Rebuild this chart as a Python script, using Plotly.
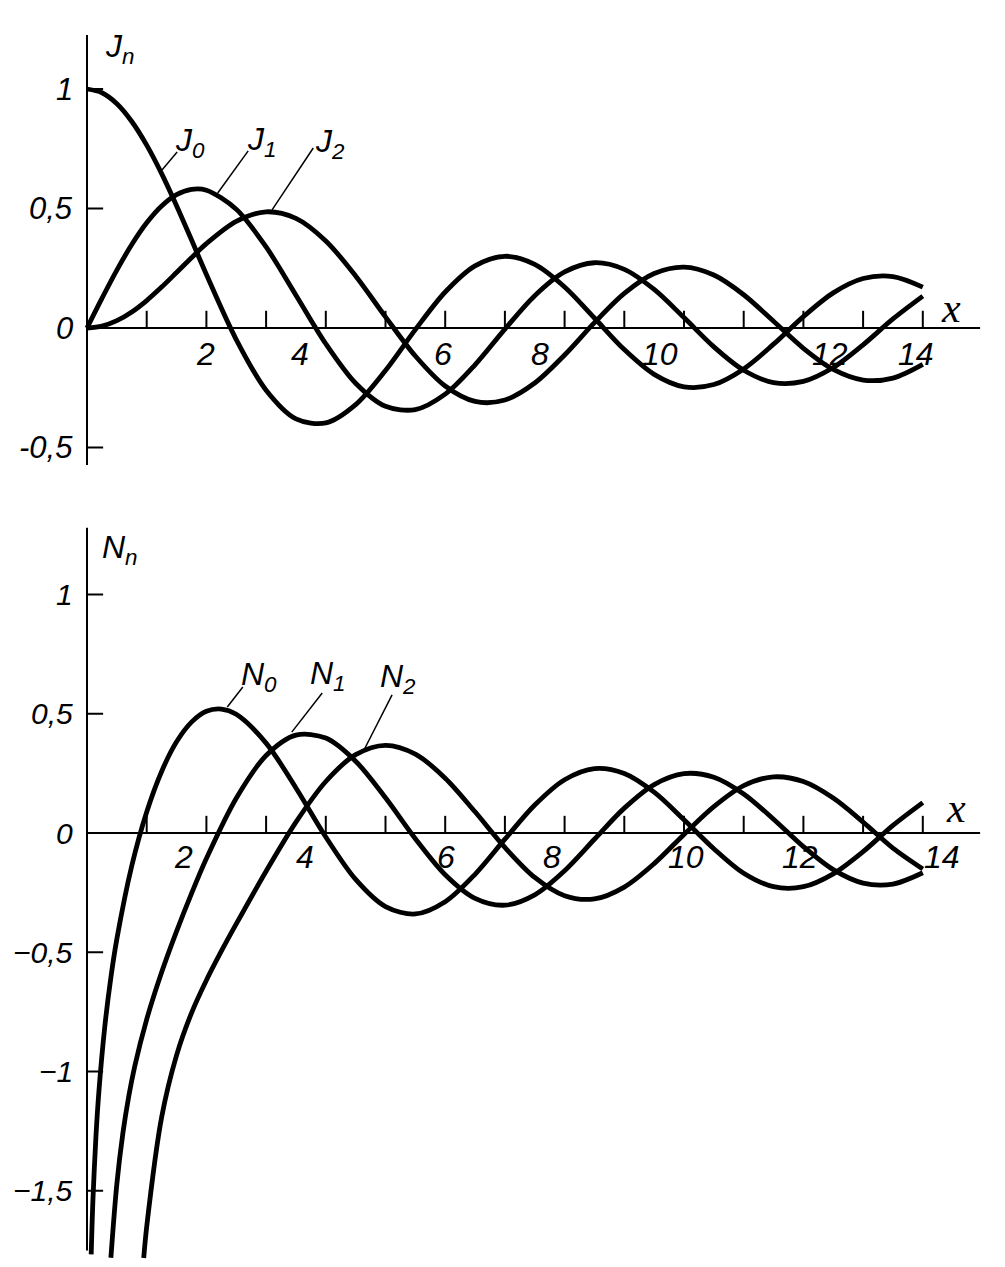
import plotly.graph_objects as go

# ---------------- data ----------------
x_J = [0, 0.25, 0.5, 0.75, 1, 1.25, 1.5, 1.75, 2, 2.5, 3, 3.5, 4, 4.5, 5, 5.5, 6, 6.5,
       7, 7.5, 8, 8.5, 9, 9.5, 10, 10.5, 11, 11.5, 12, 12.5, 13, 13.5, 14]
J0 = [1.0, 0.9844, 0.9385, 0.8642, 0.7652, 0.6459, 0.5118, 0.3690, 0.2239, -0.0484,
      -0.2601, -0.3801, -0.3971, -0.3205, -0.1776, -0.0068, 0.1506, 0.2601, 0.3001, 0.2663,
      0.1717, 0.0419, -0.0903, -0.1939, -0.2459, -0.2366, -0.1712, -0.0677, 0.0477, 0.1469,
      0.2069, 0.2150, 0.1711]
J1 = [0.0, 0.1240, 0.2423, 0.3492, 0.4401, 0.5106, 0.5579, 0.5802, 0.5767, 0.4971,
      0.3391, 0.1374, -0.0660, -0.2311, -0.3276, -0.3414, -0.2767, -0.1538, -0.0047, 0.1352,
      0.2346, 0.2731, 0.2453, 0.1613, 0.0435, -0.0789, -0.1768, -0.2284, -0.2234, -0.1655,
      -0.0703, 0.0380, 0.1334]
J2 = [0.0, 0.0078, 0.0306, 0.0671, 0.1149, 0.1711, 0.2321, 0.2941, 0.3528, 0.4461,
      0.4861, 0.4586, 0.3641, 0.2178, 0.0466, -0.1173, -0.2429, -0.3074, -0.3014, -0.2303,
      -0.1130, 0.0223, 0.1448, 0.2279, 0.2546, 0.2216, 0.1391, 0.0280, -0.0849, -0.1734,
      -0.2177, -0.2094, -0.1520]

x_N0 = [0.07, 0.1, 0.15, 0.2, 0.3, 0.4, 0.5, 0.75, 1, 1.25, 1.5, 1.75, 2, 2.25, 2.5, 3,
        3.5, 4, 4.5, 5, 5.5, 6, 6.5, 7, 7.5, 8, 8.5, 9, 9.5, 10, 10.5, 11, 11.5, 12,
        12.5, 13, 13.5, 14]
N0 = [-1.767, -1.5342, -1.271, -1.0811, -0.8073, -0.6060, -0.4445, -0.1373, 0.0883,
      0.2582, 0.3824, 0.4650, 0.5104, 0.5197, 0.4981, 0.3769, 0.1890, -0.0169, -0.1947,
      -0.3085, -0.3395, -0.2882, -0.1732, -0.0259, 0.1173, 0.2235, 0.2702, 0.2499, 0.1712,
      0.0557, -0.0660, -0.1688, -0.2252, -0.2252, -0.1712, -0.0782, 0.0316, 0.1272]

x_N1 = [0.4, 0.5, 0.6, 0.7, 0.8, 1, 1.25, 1.5, 1.75, 2, 2.5, 3, 3.5, 4, 4.5, 5, 5.5, 6,
        6.5, 7, 7.5, 8, 8.5, 9, 9.5, 10, 10.5, 11, 11.5, 12, 12.5, 13, 13.5, 14]
N1 = [-1.7809, -1.4715, -1.2604, -1.1032, -0.9781, -0.7812, -0.5840, -0.4123, -0.2540,
      -0.1070, 0.1459, 0.3247, 0.4102, 0.3979, 0.3010, 0.1479, -0.0238, -0.1750, -0.2741,
      -0.3027, -0.2591, -0.1581, -0.0262, 0.1043, 0.2032, 0.2490, 0.2337, 0.1637, 0.0579,
      -0.0571, -0.1538, -0.2101, -0.2140, -0.1666]

x_N2 = [0.95, 1, 1.25, 1.5, 1.75, 2, 2.25, 2.5, 3, 3.5, 4, 4.5, 5, 5.5, 6, 6.5, 7, 7.5,
        8, 8.5, 9, 9.5, 10, 10.5, 11, 11.5, 12, 12.5, 13, 13.5, 14]
N2 = [-1.782, -1.6507, -1.192, -0.9322, -0.7550, -0.6174, -0.4957, -0.3813, -0.1604,
      0.0454, 0.2159, 0.3285, 0.3677, 0.3308, 0.2299, 0.0889, -0.0606, -0.1864, -0.2630,
      -0.2764, -0.2267, -0.1284, -0.0059, 0.1105, 0.1986, 0.2353, 0.2157, 0.1466, 0.0459,
      -0.0633, -0.1510]

x_ticks = list(range(1, 15))
x_ticklabels = ["2", "4", "6", "8", "10", "12", "14"]
top_label_x = [1.98, 3.57, 5.96, 7.59, 9.6, 12.44, 13.88]
bot_label_x = [1.61, 3.65, 6.01, 7.79, 10.03, 11.95, 14.32]

top_yticks = [1, 0.5, -0.5]
top_ylabels = ["1", "0,5", "0", "-0,5"]
top_ylabel_vals = [1, 0.5, 0, -0.5]
bot_yticks = [1, 0.5, -0.5, -1, -1.5]
bot_ylabels = ["1", "0,5", "0", "\u22120,5", "\u22121", "\u22121,5"]
bot_ylabel_vals = [1, 0.5, 0, -0.5, -1, -1.5]

# ---------------- figure geometry ----------------
OFF = 8                       # default page body margin
W, H = 1005 - 2 * OFF, 1267 - 2 * OFF
PXU = 59.7                    # px per x unit
X0PX = 87 - OFF               # px of x = 0
TOP0 = 328 - OFF              # px of y = 0 (top panel)
BOT0 = 833 - OFF              # px of y = 0 (bottom panel)
SPLIT = 500 - OFF
xr = [-X0PX / PXU, (W - X0PX) / PXU]
top_dom = [1 - SPLIT / H, 1]
bot_dom = [0, 1 - SPLIT / H]
top_yr = [(TOP0 - SPLIT) / 239.0, TOP0 / 239.0]
bot_yr = [(BOT0 - H) / 238.5, (BOT0 - SPLIT) / 238.5]

FONT = "Liberation Sans, Arial, sans-serif"
LW = 4.8
fig = go.Figure()

for xs, ys in [(x_J, J0), (x_J, J1), (x_J, J2)]:
    fig.add_trace(go.Scatter(x=xs, y=ys, mode="lines", xaxis="x", yaxis="y",
                             line=dict(color="black", width=LW, shape="spline", smoothing=0.9),
                             showlegend=False, hoverinfo="skip"))
for xs, ys in [(x_N0, N0), (x_N1, N1), (x_N2, N2)]:
    fig.add_trace(go.Scatter(x=xs, y=ys, mode="lines", xaxis="x2", yaxis="y2",
                             line=dict(color="black", width=LW, shape="spline", smoothing=0.9),
                             showlegend=False, hoverinfo="skip"))

shapes = []
annots = []


def line(xref, yref, x0, y0, x1, y1, w=2):
    shapes.append(dict(type="line", xref=xref, yref=yref, x0=x0, y0=y0, x1=x1, y1=y1,
                       line=dict(color="black", width=w), layer="above"))


def text(xref, yref, x, y, t, size=32, xanchor="center", family=FONT):
    annots.append(dict(xref=xref, yref=yref, x=x, y=y, text=t, showarrow=False,
                       xanchor=xanchor, yanchor="middle",
                       font=dict(family=family, size=size, color="black", style="italic")))


# --- top panel axes ---
line("x", "y", 0, 0, 14.96, 0)
line("x", "y", 0, -0.573, 0, 1.226)
for t in x_ticks:
    line("x", "y", t, 0, t, 0.072)
for t in top_yticks:
    line("x", "y", 0, t, 0.27, t)
for lab, lx in zip(x_ticklabels, top_label_x):
    text("x", "y", lx, -0.11, lab)
for lab, v in zip(top_ylabels, top_ylabel_vals):
    text("x", "y", -0.2, v, lab, size=31, xanchor="right")
text("x", "y", 14.48, 0.085, "x", size=42, family="Liberation Serif, serif")
text("x", "y", 0.55, 1.17, "J<sub>n</sub>", size=32)

# --- bottom panel axes ---
line("x2", "y2", 0, 0, 14.96, 0)
line("x2", "y2", 0, -1.75, 0, 1.28)
for t in x_ticks:
    line("x2", "y2", t, 0, t, 0.072)
for t in bot_yticks:
    line("x2", "y2", 0, t, 0.27, t)
for lab, lx in zip(x_ticklabels, bot_label_x):
    text("x2", "y2", lx, -0.10, lab)
for lab, v in zip(bot_ylabels, bot_ylabel_vals):
    text("x2", "y2", -0.2, v, lab, size=30, xanchor="right")
text("x2", "y2", 14.55, 0.105, "x", size=42, family="Liberation Serif, serif")
text("x2", "y2", 0.55, 1.19, "N<sub>n</sub>", size=32)

# --- curve labels with leader lines ---
curve_labels_top = [("J<sub>0</sub>", 1.72, 0.775, 1.51, 0.736, 1.256, 0.661),
                    ("J<sub>1</sub>", 2.93, 0.780, 2.70, 0.741, 2.19, 0.565),
                    ("J<sub>2</sub>", 4.07, 0.772, 3.79, 0.753, 3.10, 0.494)]
curve_labels_bot = [("N<sub>0</sub>", 2.88, 0.655, 2.61, 0.612, 2.35, 0.528),
                    ("N<sub>1</sub>", 4.03, 0.662, 3.94, 0.587, 3.43, 0.423),
                    ("N<sub>2</sub>", 5.21, 0.648, 5.11, 0.579, 4.64, 0.348)]
for (t, tx, ty, a0, b0, a1, b1) in curve_labels_top:
    text("x", "y", tx, ty, t, size=32)
    line("x", "y", a0, b0, a1, b1, w=1.5)
for (t, tx, ty, a0, b0, a1, b1) in curve_labels_bot:
    text("x2", "y2", tx, ty, t, size=32)
    line("x2", "y2", a0, b0, a1, b1, w=1.5)

hidden = dict(visible=False, showgrid=False, zeroline=False)
fig.update_layout(
    width=W, height=H,
    margin=dict(l=0, r=0, t=0, b=0),
    paper_bgcolor="white", plot_bgcolor="white",
    xaxis=dict(domain=[0, 1], range=xr, anchor="y", **hidden),
    yaxis=dict(domain=top_dom, range=top_yr, anchor="x", **hidden),
    xaxis2=dict(domain=[0, 1], range=xr, anchor="y2", **hidden),
    yaxis2=dict(domain=bot_dom, range=bot_yr, anchor="x2", **hidden),
    shapes=shapes, annotations=annots,
)

fig.write_html("out.html")
